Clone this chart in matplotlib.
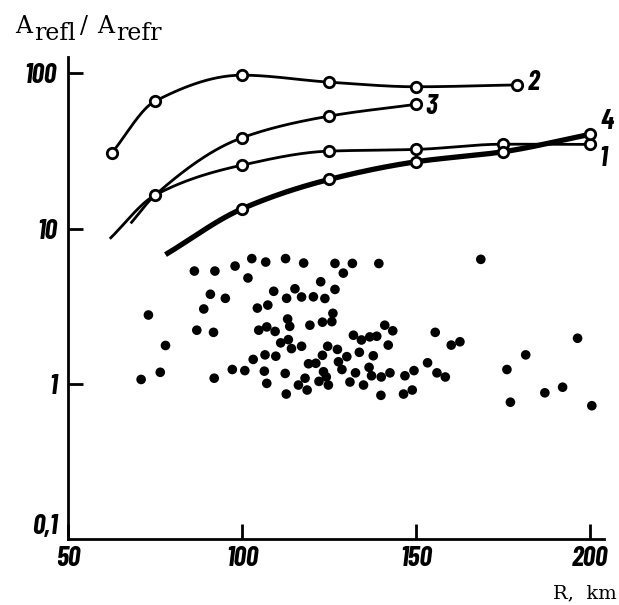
import numpy as np
import matplotlib.pyplot as plt

# curves (open circles), R in km, amplitude ratio
r1 = [62, 75, 100, 125, 150, 175, 200]
a1 = [8.6, 16.4, 25.6, 31.5, 32.3, 34.9, 34.8]
r2 = [62.5, 75, 100, 125, 150, 179]
a2 = [30.5, 66, 97, 87.5, 81.7, 84]
r3 = [68, 75, 100, 125, 150]
a3 = [10.8, 16.4, 38.4, 52.9, 63]
r4 = [78, 100, 125, 150, 175, 200]
a4 = [6.8, 13.4, 20.7, 26.9, 31.2, 40.4]

# individual measurements (filled dots)
dots_r = [86.3, 92.2, 98.0, 102.8, 106.8, 112.5, 117.7, 126.7, 131.7, 139.3,
          129.1, 101.7, 168.6, 90.9, 95.2, 89.0, 73.1, 87.0, 91.8, 78.0,
          76.5, 71.0, 92.0, 97.2, 100.8, 109.1, 115.2, 122.6, 126.7, 112.8,
          117.1, 120.5, 123.8, 104.4, 107.4, 113.1, 113.7, 119.5, 123.1, 126.1,
          125.8, 104.8, 107.1, 109.5, 111.1, 113.3, 114.2, 117.1, 124.6, 127.4,
          103.2, 106.6, 109.7, 123.1, 119.1, 121.2, 127.7, 106.4, 112.4, 123.4,
          124.2, 107.1, 118.1, 116.2, 118.7, 122.1, 124.8, 112.7, 141.0, 143.3,
          132.0, 134.3, 136.7, 138.7, 155.5, 142.0, 130.1, 133.7, 137.7, 128.7,
          136.5, 132.6, 137.2, 140.0, 142.5, 149.4, 146.8, 153.3, 156.0, 158.4,
          131.0, 134.9, 139.9, 146.4, 148.9, 160.1, 162.6, 181.5, 196.4, 176.1,
          177.1, 187.0, 192.1, 200.5]
dots_a = [5.33, 5.33, 5.74, 6.41, 6.09, 6.41, 6.0, 5.97, 5.97, 5.96,
          5.17, 4.81, 6.34, 3.78, 3.56, 3.04, 2.78, 2.22, 2.15, 1.77,
          1.19, 1.07, 1.09, 1.24, 1.22, 3.95, 4.10, 4.55, 4.06, 3.56,
          3.63, 3.64, 3.55, 3.08, 3.22, 2.62, 2.35, 2.39, 2.50, 2.85,
          2.52, 2.22, 2.33, 2.18, 1.84, 1.93, 1.69, 1.75, 1.75, 1.67,
          1.44, 1.54, 1.51, 1.53, 1.35, 1.36, 1.39, 1.21, 1.17, 1.20,
          1.11, 1.01, 1.09, 0.985, 0.915, 1.04, 0.985, 0.862, 2.39, 2.20,
          2.06, 1.92, 2.01, 2.03, 2.15, 1.78, 1.50, 1.60, 1.52, 1.24,
          1.28, 1.18, 1.13, 1.11, 1.18, 1.22, 1.13, 1.37, 1.18, 1.11,
          1.03, 0.985, 0.846, 0.862, 0.915, 1.78, 1.87, 1.54, 1.97, 1.24,
          0.764, 0.878, 0.954, 0.725]

tick_font = dict(family=['Barlow Condensed', 'DejaVu Sans'],
                 weight='bold', style='italic', size=20)
serif = dict(family='DejaVu Serif', size=17)


def smooth(xs, ys, n=200):
    # monotone cubic (pchip) through the points, y in log space
    x = np.asarray(xs, float)
    y = np.log10(ys)
    h = np.diff(x)
    d = np.diff(y) / h
    m = np.zeros_like(y)
    for k in range(1, len(x) - 1):
        if d[k - 1] * d[k] > 0:
            w1 = 2 * h[k] + h[k - 1]
            w2 = h[k] + 2 * h[k - 1]
            m[k] = (w1 + w2) / (w1 / d[k - 1] + w2 / d[k])
    m[0] = d[0]
    m[-1] = d[-1]
    xx = np.linspace(x[0], x[-1], n)
    i = np.clip(np.searchsorted(x, xx) - 1, 0, len(h) - 1)
    t = (xx - x[i]) / h[i]
    yy = ((2 * t**3 - 3 * t**2 + 1) * y[i] + (t**3 - 2 * t**2 + t) * h[i] * m[i]
          + (-2 * t**3 + 3 * t**2) * y[i + 1] + (t**3 - t**2) * h[i] * m[i + 1])
    return xx, 10 ** yy


fig = plt.figure(figsize=(6.19, 6.05), dpi=100)
ax = fig.add_axes([0.1099, 0.1083, 0.8659, 0.7975])
ax.set_yscale('log')
ax.set_xlim(50, 204)
ax.set_ylim(0.1, 127)

mk = dict(ls='none', marker='o', ms=7.5, mfc='white', mec='black', mew=2, zorder=4)

for r, a, lw, first in [(r1, a1, 2.0, 1), (r2, a2, 2.0, 0),
                        (r3, a3, 2.0, 2), (r4, a4, 3.8, 1)]:
    xs, ys = smooth(r, a)
    ax.plot(xs, ys, color='black', lw=lw, solid_capstyle='butt', zorder=3)
    ax.plot(r[first:], a[first:], **mk)

ax.scatter(dots_r, dots_a, s=48, c='black', edgecolors='none', zorder=2)

# curve numbers
for txt, x, y in [('2', 183.7, 86.6), ('3', 154.5, 60.7), ('4', 205.0, 48.6), ('1', 203.8, 28.3)]:
    ax.text(x, y, txt, ha='center', va='center', clip_on=False, **tick_font)

# axes styling
for side in ['top', 'right']:
    ax.spines[side].set_visible(False)
for side in ['left', 'bottom']:
    ax.spines[side].set_linewidth(2)
ax.minorticks_off()
ax.set_yticks([1, 10, 100])
ax.set_yticklabels(['1', '10', '100'], **tick_font)
ax.set_xticks([50, 100, 150, 200])
ax.set_xticklabels(['50', '100', '150', '200'], **tick_font)
ax.tick_params(axis='both', direction='in', length=11, width=2)
ax.tick_params(axis='y', pad=8)
ax.tick_params(axis='x', pad=5)
ax.annotate('0,1', xy=(0, 0.1), xycoords=('axes fraction', 'data'),
            xytext=(-10, 0), textcoords='offset pixels', ha='right', va='bottom',
            **tick_font)

# axis titles
for txt, x, base in [('A', 15, 33), ('refl', 34, 40), ('/', 80, 33),
                     ('A', 97, 33), ('refr', 116, 40)]:
    fig.text(x / 619, 1 - base / 605, txt, ha='left', va='baseline', **serif)
fig.text(617 / 619, 1 - 598 / 605, 'R,  km', ha='right', va='baseline',
         family='DejaVu Serif', size=14)

fig.savefig('out.png', dpi=100)
